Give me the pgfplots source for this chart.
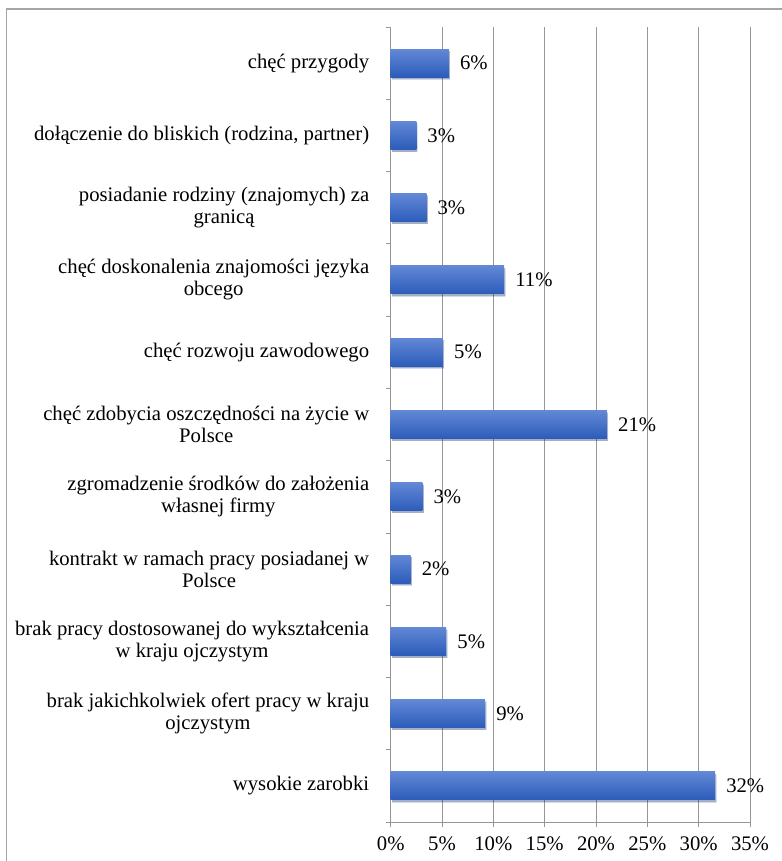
\documentclass[border=0pt]{standalone}
\usepackage{pgfplots}
\pgfplotsset{compat=1.18}
\usepackage{fontspec}
\setmainfont{Liberation Serif}
\usetikzlibrary{shadows}
\definecolor{barTop}{RGB}{98,136,214}
\definecolor{barMid}{RGB}{62,108,202}
\definecolor{barBot}{RGB}{44,92,186}
\definecolor{gridc}{RGB}{150,150,150}
\definecolor{framec}{RGB}{165,165,165}
\newcommand{\lblfont}{\fontsize{20.7}{22}\selectfont}

\begin{document}
\begin{tikzpicture}
\path[use as bounding box] (-390.7pt,-39pt) rectangle (390.3pt,822pt);
\draw[framec,line width=1.3pt] (-384pt,-50pt) -- (-384pt,813pt) -- (400pt,813pt);
\begin{axis}[
  at={(0pt,0pt)}, anchor=south west,
  scale only axis,
  width=359.3pt, height=795pt,
  xbar, bar width=28pt, bar shift=0pt,
  xmin=0, xmax=35,
  ymin=-0.5, ymax=10.5,
  axis lines*=left,
  axis line style={-, draw=gridc, line width=0.8pt},
  xtick={0,5,...,35},
  xticklabels={0\%,5\%,10\%,15\%,20\%,25\%,30\%,35\%},
  ytick={0,...,10},
  yticklabels={
    {wysokie zarobki},
    {brak jakichkolwiek ofert pracy w kraju\\ojczystym},
    {brak pracy dostosowanej do wykształcenia\\w kraju ojczystym},
    {kontrakt w ramach pracy posiadanej w\\Polsce},
    {zgromadzenie środków do założenia\\własnej firmy},
    {chęć zdobycia oszczędności na życie w\\Polsce},
    {chęć rozwoju zawodowego},
    {chęć doskonalenia znajomości języka\\obcego},
    {posiadanie rodziny (znajomych) za\\granicą},
    {dołączenie do bliskich (rodzina, partner)},
    {chęć przygody}},
  minor ytick={-0.5,0.5,...,10.5},
  tick align=outside,
  major tick length=5pt,
  minor tick length=5pt,
  major y tick style={draw=none},
  minor y tick style={draw=gridc, line width=0.8pt},
  major x tick style={draw=gridc, line width=0.8pt},
  xmajorgrids,
  major grid style={draw=gridc, line width=0.8pt},
  x tick label style={font=\lblfont, yshift=-6pt},
  y tick label style={font=\lblfont, align=center, xshift=-13pt},
  point meta=explicit symbolic,
  nodes near coords,
  nodes near coords style={font=\lblfont, anchor=west, inner sep=0pt, xshift=11pt, text=black},
  gbar/.style={draw=none, top color=barTop, middle color=barMid, bottom color=barBot,
    drop shadow={shadow xshift=1.2pt, shadow yshift=-2.2pt, opacity=0.22, fill=black}},
]
\addplot[gbar] coordinates {(31.6,0) [32\%]};
\addplot[gbar] coordinates {(9.2,1) [9\%]};
\addplot[gbar] coordinates {(5.41,2) [5\%]};
\addplot[gbar] coordinates {(1.94,3) [2\%]};
\addplot[gbar] coordinates {(3.08,4) [3\%]};
\addplot[gbar] coordinates {(21.07,5) [21\%]};
\addplot[gbar] coordinates {(5.09,6) [5\%]};
\addplot[gbar] coordinates {(11.05,7) [11\%]};
\addplot[gbar] coordinates {(3.47,8) [3\%]};
\addplot[gbar] coordinates {(2.49,9) [3\%]};
\addplot[gbar] coordinates {(5.67,10) [6\%]};
\end{axis}
\end{tikzpicture}
\end{document}
